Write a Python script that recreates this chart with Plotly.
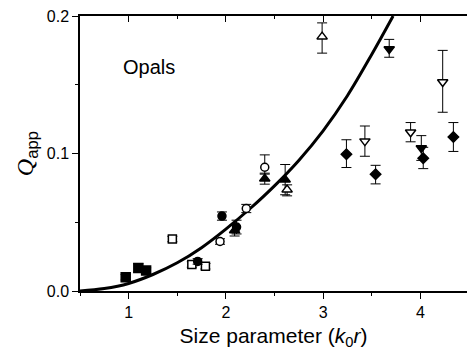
import plotly.graph_objects as go

# ---- data ----
curve_x = [0.50, 0.75, 1.00, 1.25, 1.50, 1.75, 2.00, 2.25, 2.50, 2.75, 3.00, 3.25, 3.50, 3.72]
curve_y = [0.000, 0.0018, 0.0055, 0.0120, 0.0205, 0.0315, 0.0450, 0.0600, 0.0765, 0.0950, 0.1165, 0.1420, 0.1720, 0.2000]

sq_filled_x = [0.97, 1.10, 1.18]
sq_filled_y = [0.0100, 0.0168, 0.0149]
sq_filled_e = [0.002, 0.003, 0.002]

sq_open_x = [1.45, 1.65, 1.79]
sq_open_y = [0.0378, 0.0193, 0.0180]
sq_open_e = [0.002, 0.002, 0.002]

ci_filled_x = [1.71, 1.96, 2.11]
ci_filled_y = [0.0215, 0.0545, 0.0465]
ci_filled_e = [0.002, 0.003, 0.005]

ci_open_x = [1.94, 2.21, 2.40]
ci_open_y = [0.0360, 0.0600, 0.0900]
ci_open_ep = [0.002, 0.003, 0.009]
ci_open_em = [0.002, 0.003, 0.005]

tr_filled_x = [2.09, 2.40, 2.61]
tr_filled_y = [0.0440, 0.0817, 0.0810]
tr_filled_e = [0.004, 0.004, 0.011]

tr_open_x = [2.63, 2.99]
tr_open_y = [0.0737, 0.1850]
tr_open_ep = [0.0035, 0.010]
tr_open_em = [0.0045, 0.012]

it_filled_x = [3.68, 4.01]
it_filled_y = [0.1760, 0.1040]
it_filled_ep = [0.007, 0.009]
it_filled_em = [0.006, 0.009]

it_open_x = [3.43, 3.90, 4.23]
it_open_y = [0.1090, 0.1155, 0.1520]
it_open_ep = [0.011, 0.007, 0.023]
it_open_em = [0.011, 0.007, 0.022]

di_filled_x = [3.24, 3.54, 4.03, 4.34]
di_filled_y = [0.0995, 0.0849, 0.0965, 0.1120]
di_filled_ep = [0.0105, 0.0065, 0.0080, 0.0105]
di_filled_em = [0.0097, 0.0070, 0.0075, 0.0105]

x_ticks = [1, 2, 3, 4]
y_ticks = [0.0, 0.1, 0.2]

FONT = "Liberation Sans, Arial, sans-serif"

fig = go.Figure()

fig.add_trace(go.Scatter(x=curve_x, y=curve_y, mode="lines",
                         line=dict(color="black", width=3, shape="spline"),
                         showlegend=False, hoverinfo="skip"))


def add_pts(x, y, ep, em, symbol, size, filled):
    fig.add_trace(go.Scatter(
        x=x, y=y, mode="markers",
        marker=dict(symbol=symbol, size=size,
                    color="black" if filled else "white",
                    line=dict(color="black", width=1.5)),
        error_y=dict(type="data", array=ep, arrayminus=em, symmetric=False,
                     color="black", thickness=1, width=5),
        showlegend=False))


add_pts(sq_filled_x, sq_filled_y, sq_filled_e, sq_filled_e, "square", 9, True)
add_pts(sq_open_x, sq_open_y, sq_open_e, sq_open_e, "square", 8, False)
add_pts(ci_filled_x, ci_filled_y, ci_filled_e, ci_filled_e, "circle", 8, True)
add_pts(ci_open_x, ci_open_y, ci_open_ep, ci_open_em, "circle", 8, False)
add_pts(tr_filled_x, tr_filled_y, tr_filled_e, tr_filled_e, "triangle-up", 9, True)
add_pts(tr_open_x, tr_open_y, tr_open_ep, tr_open_em, "triangle-up", 9, False)
add_pts(it_filled_x, it_filled_y, it_filled_ep, it_filled_em, "triangle-down", 9, True)
add_pts(it_open_x, it_open_y, it_open_ep, it_open_em, "triangle-down", 9, False)
add_pts(di_filled_x, di_filled_y, di_filled_ep, di_filled_em, "diamond", 8, True)

# dummy trace for the top axis
fig.add_trace(go.Scatter(x=[None], y=[None], xaxis="x2", showlegend=False, hoverinfo="skip"))

x_range = [0.5, 4.48]
y_range = [0.0, 0.2]

fig.update_layout(
    width=467, height=356,
    margin=dict(l=80, r=0, t=16, b=65),
    plot_bgcolor="white", paper_bgcolor="white",
    font=dict(family=FONT, size=16, color="black"),
    xaxis=dict(range=x_range, showgrid=False, zeroline=False,
               showline=True, linecolor="black", linewidth=1.5,
               ticks="outside", ticklen=6, tickwidth=1.2, tickcolor="black",
               tickvals=x_ticks, ticktext=[str(v) for v in x_ticks],
               minor=dict(dtick=0.5, tick0=0, ticks="outside", ticklen=3, tickcolor="black", tickwidth=1),
               title=dict(text="Size parameter (<i>k</i><sub>0</sub><i>r</i>)",
                          font=dict(size=21), standoff=8)),
    xaxis2=dict(range=x_range, overlaying="x", side="top", showgrid=False, zeroline=False,
                showline=True, linecolor="black", linewidth=2,
                ticks="inside", ticklen=6, tickwidth=1.2, tickcolor="black",
                tickvals=x_ticks, showticklabels=False,
                minor=dict(dtick=0.5, tick0=0, ticks="inside", ticklen=3, tickcolor="black", tickwidth=1)),
    yaxis=dict(range=y_range, showgrid=False, zeroline=False,
               showline=True, linecolor="black", linewidth=1.5,
               ticks="outside", ticklen=6, tickwidth=1.2, tickcolor="black",
               tickvals=y_ticks, ticktext=[f"{v:.1f}" for v in y_ticks],
               minor=dict(dtick=0.05, tick0=0, ticks="outside", ticklen=3, tickcolor="black", tickwidth=1),
               title=dict(text='<span style="font-family:Liberation Serif"><i>Q</i></span><sub>app</sub>',
                          font=dict(size=24), standoff=6)),
    annotations=[dict(x=0.92, y=0.163, xref="x", yref="y", text="Opals",
                      showarrow=False, xanchor="left", yanchor="middle",
                      font=dict(size=20, family=FONT))],
)

fig.write_html("out.html")
